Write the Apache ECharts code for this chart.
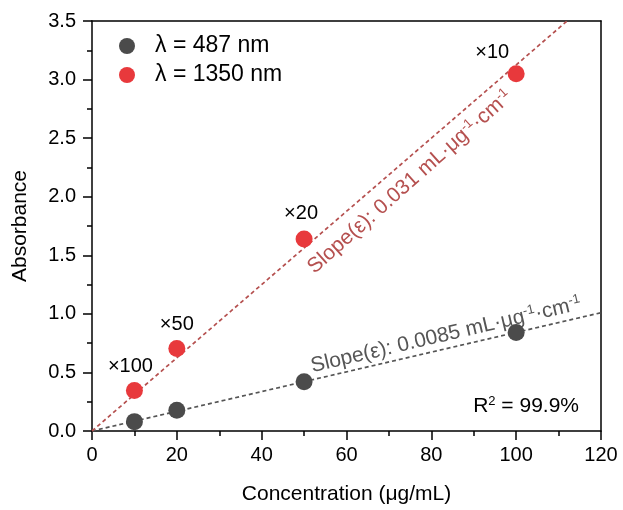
<!DOCTYPE html>
<html>
<head>
<meta charset="utf-8">
<script src="https://cdn.jsdelivr.net/npm/echarts@6/dist/echarts.min.js"></script>
<style>
  html, body { margin: 0; padding: 0; background: #fff; }
  #chart { width: 623px; height: 510px; }
</style>
</head>
<body>
<div id="chart"></div>
<script>
// Measured concentrations (µg/mL)
const concentrations = [10, 20, 50, 100];
// Absorbance at 487 nm
const abs487 = [0.08, 0.177, 0.42, 0.84];
// Absorbance at 1350 nm (diluted samples)
const abs1350 = [0.345, 0.705, 1.64, 3.05];
// Dilution factors shown next to the 1350 nm points
const dilutionLabels = ['×100', '×50', '×20', '×10'];
// Linear fits: x range and fitted values
const fitX487 = [0, 120];
const fit487 = [0, 1.01];
const fitX1350 = [0, 112];
const fit1350 = [0, 3.5];

// Axis ranges
const X_MIN = 0, X_MAX = 120, X_STEP = 20;
const Y_MIN = 0, Y_MAX = 3.5, Y_STEP = 0.5;

const FONT = 'Liberation Sans, Arial, sans-serif';
const GRAY = '#4b4b4b';
const RED = '#e8393c';
const FIT_RED = '#b5504f';
const FIT_GRAY = '#555555';

// nudges for the dilution annotations
const labelOffsets = [[-4, -1], [0, 0], [-3, -2], [-24, 2]];

// plot area (px)
const W = 623, H = 510;
const PLOT = { left: 92, right: 22, top: 21, bottom: 79 };
const pxPerX = (W - PLOT.left - PLOT.right) / (X_MAX - X_MIN);
const pxPerY = (H - PLOT.top - PLOT.bottom) / (Y_MAX - Y_MIN);

const chart = echarts.init(document.getElementById('chart'));

const pts487 = concentrations.map((c, i) => [c, abs487[i]]);
const pts1350 = concentrations.map((c, i) => ({
  value: [c, abs1350[i]],
  label: { show: true, formatter: dilutionLabels[i], offset: labelOffsets[i] }
}));

const labelFont = { fontFamily: FONT, fontSize: 20, color: '#000' };
const lineBlack = () => ({ color: '#000', width: 1.5 });
const hiddenAxis = (gridIndex) => ({
  gridIndex, type: 'value', min: 0, max: 1,
  axisLine: { show: false, onZero: false }, axisTick: { show: false },
  axisLabel: { show: false }, splitLine: { show: false }, minorTick: { show: false }
});

// Long (major) tick marks are drawn as the subdivisions of a single-span helper axis
// laid over the same pixel scale; [lo, hi] is split into `parts` equal steps.
const grids = [Object.assign({}, PLOT)];
const xAxes = [];
const yAxes = [];
function yTickAxis(lo, hi, parts) {
  const gi = grids.length;
  grids.push({
    left: PLOT.left, right: PLOT.right,
    top: PLOT.top + (Y_MAX - hi) * pxPerY,
    bottom: PLOT.bottom + (lo - Y_MIN) * pxPerY
  });
  xAxes.push(hiddenAxis(gi));
  yAxes.push({
    gridIndex: gi, type: 'value', position: 'left', min: lo, max: hi, interval: hi - lo,
    axisLine: { show: false, onZero: false }, axisTick: { show: false },
    axisLabel: { show: false }, splitLine: { show: false },
    minorTick: { show: true, splitNumber: parts, length: 9, lineStyle: lineBlack() }
  });
}
function xTickAxis(lo, hi, parts) {
  const gi = grids.length;
  grids.push({
    left: PLOT.left + (lo - X_MIN) * pxPerX,
    right: PLOT.right + (X_MAX - hi) * pxPerX,
    top: PLOT.top, bottom: PLOT.bottom
  });
  yAxes.push(hiddenAxis(gi));
  xAxes.push({
    gridIndex: gi, type: 'value', position: 'bottom', min: lo, max: hi, interval: hi - lo,
    axisLine: { show: false, onZero: false }, axisTick: { show: false },
    axisLabel: { show: false }, splitLine: { show: false },
    minorTick: { show: true, splitNumber: parts, length: 9, lineStyle: lineBlack() }
  });
}
// y: 0.0 … 3.0, then 3.5 at the top corner
yTickAxis(Y_MIN - Y_STEP, Y_MAX, Math.round((Y_MAX - Y_MIN) / Y_STEP) + 1);
yTickAxis(Y_MAX - 0.1, Y_MAX + 0.1, 2);
// x: 0 … 100, then 120 at the right corner
xTickAxis(X_MIN - X_STEP, X_MAX, (X_MAX - X_MIN) / X_STEP + 1);
xTickAxis(X_MAX - 5, X_MAX + 5, 2);

chart.setOption({
  animation: false,
  backgroundColor: '#fff',
  grid: grids,
  legend: {
    left: 114, top: 29, orient: 'vertical', itemGap: 5,
    itemWidth: 16, itemHeight: 16,
    textStyle: { fontFamily: FONT, fontSize: 23, lineHeight: 24, color: '#000', padding: [0, 0, 0, 15] },
    data: [
      { name: 'λ = 487 nm', icon: 'circle' },
      { name: 'λ = 1350 nm', icon: 'circle' }
    ]
  },
  xAxis: [
    {
      gridIndex: 0, type: 'value', min: X_MIN, max: X_MAX, interval: X_STEP,
      name: 'Concentration (μg/mL)', nameLocation: 'middle', nameGap: 53,
      nameTextStyle: { fontFamily: FONT, fontSize: 21, color: '#000' },
      axisLine: { show: true, onZero: false, lineStyle: lineBlack() },
      axisTick: { show: false },
      minorTick: { show: true, splitNumber: 2, length: 5, lineStyle: lineBlack() },
      axisLabel: Object.assign({ margin: 14 }, labelFont),
      splitLine: { show: false }
    },
    {
      // top frame edge
      gridIndex: 0, type: 'value', position: 'top', min: X_MIN, max: X_MAX,
      axisLine: { show: true, onZero: false, lineStyle: lineBlack() },
      axisTick: { show: false }, axisLabel: { show: false }, splitLine: { show: false }
    }
  ].concat(xAxes),
  yAxis: [
    {
      gridIndex: 0, type: 'value', min: Y_MIN, max: Y_MAX, interval: Y_STEP,
      name: 'Absorbance', nameLocation: 'middle', nameGap: 61,
      nameTextStyle: { fontFamily: FONT, fontSize: 21, color: '#000' },
      axisLine: { show: true, onZero: false, lineStyle: lineBlack() },
      axisTick: { show: false },
      minorTick: { show: true, splitNumber: 2, length: 5, lineStyle: lineBlack() },
      axisLabel: Object.assign({ margin: 16, formatter: v => v.toFixed(1) }, labelFont),
      splitLine: { show: false }
    },
    {
      // right frame edge
      gridIndex: 0, type: 'value', position: 'right', min: Y_MIN, max: Y_MAX,
      axisLine: { show: true, onZero: false, lineStyle: lineBlack() },
      axisTick: { show: false }, axisLabel: { show: false }, splitLine: { show: false }
    }
  ].concat(yAxes),
  series: [
    {
      name: 'fit487', type: 'line', data: fitX487.map((x, i) => [x, fit487[i]]),
      showSymbol: false, silent: true, z: 1,
      lineStyle: { color: FIT_GRAY, width: 1.7, type: [4, 3] }
    },
    {
      name: 'fit1350', type: 'line', data: fitX1350.map((x, i) => [x, fit1350[i]]),
      showSymbol: false, silent: true, z: 1,
      lineStyle: { color: FIT_RED, width: 1.7, type: [4, 3] }
    },
    {
      name: 'λ = 487 nm', type: 'scatter', data: pts487,
      symbol: 'circle', symbolSize: 17, z: 3,
      itemStyle: { color: GRAY, opacity: 1 }
    },
    {
      name: 'λ = 1350 nm', type: 'scatter', data: pts1350,
      symbol: 'circle', symbolSize: 17, z: 3,
      itemStyle: { color: RED, opacity: 1 },
      label: { position: 'top', fontFamily: FONT, fontSize: 20, color: '#000' }
    }
  ],
  graphic: [
    {
      type: 'text', x: 410, y: 182, rotation: 41.5 * Math.PI / 180,
      style: {
        text: 'Slope(ε): 0.031 mL·μg{s|-1}·cm{s|-1}',
        fontFamily: FONT, fontSize: 21, fill: FIT_RED,
        align: 'center', verticalAlign: 'middle',
        rich: { s: { fontSize: 13, fill: FIT_RED, fontFamily: FONT, padding: [0, 0, 10, 0] } }
      }
    },
    {
      type: 'text', x: 446, y: 335, rotation: 13.2 * Math.PI / 180,
      style: {
        text: 'Slope(ε): 0.0085 mL·μg{s|-1}·cm{s|-1}',
        fontFamily: FONT, fontSize: 21, fill: FIT_GRAY,
        align: 'center', verticalAlign: 'middle',
        rich: { s: { fontSize: 13, fill: FIT_GRAY, fontFamily: FONT, padding: [0, 0, 10, 0] } }
      }
    },
    {
      type: 'text', x: 579, y: 406,
      style: {
        text: 'R{s|2} = 99.9%',
        fontFamily: FONT, fontSize: 21, fill: '#000',
        align: 'right', verticalAlign: 'middle',
        rich: { s: { fontSize: 13, fill: '#000', fontFamily: FONT, padding: [0, 0, 10, 0] } }
      }
    }
  ]
});
</script>
</body>
</html>
